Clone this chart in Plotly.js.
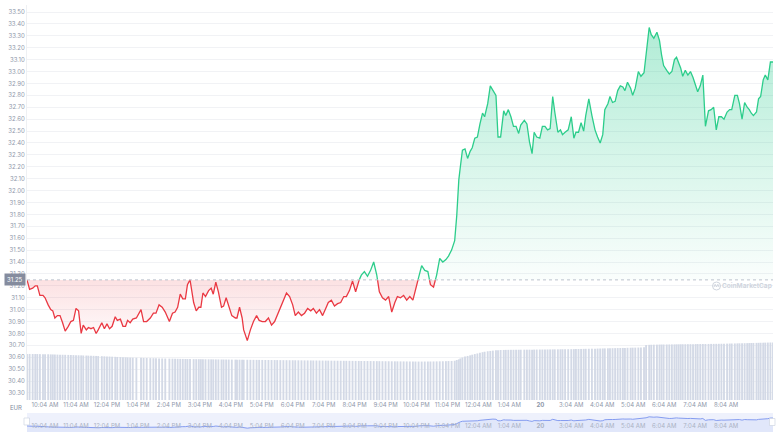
<!DOCTYPE html>
<html><head><meta charset="utf-8">
<script src="https://cdn.plot.ly/plotly-3.0.1.min.js"></script>
<style>html,body{margin:0;padding:0;background:#fff}#chart{width:780px;height:439px}</style>
</head><body><div id="chart"></div>
<script>
// ---- data ----
const startTime = Date.UTC(2024, 0, 19, 9, 29); // 9:29 AM, day 19
const minutes = [
0,5,11,16,20,25,31,35,41,46,50,54,59,64,69,74,80,85,90,95,
100,105,109,115,119,124,129,134,138,145,150,155,160,165,171,175,181,186,191,195,
200,205,212,221,226,232,239,245,250,256,262,268,276,282,287,292,297,302,307,311,
316,323,328,333,337,341,346,352,357,361,366,371,377,381,386,391,397,404,407,412,
417,420,427,433,439,445,450,456,462,468,474,480,485,491,497,503,509,515,520,526,
532,538,544,550,555,561,567,573,579,584,590,596,602,608,614,619,625,631,637,643,
648,654,660,666,672,678,683,689,695,701,707,713,718,724,730,736,742,748,753,759,
765,771,777,782,788,794,800,806,812,817,823,829,833,837,840,844,849,854,859,863,
868,873,878,883,887,893,898,903,909,913,918,924,928,933,938,943,948,953,957,964,
969,974,979,983,988,994,999,1004,1009,1014,1019,1023,1029,1034,1038,1043,1049,1055,1060,1064,
1069,1074,1079,1083,1089,1095,1101,1106,1111,1116,1120,1126,1130,1135,1140,1145,1150,1155,1159,1164,
1170,1174,1179,1185,1190,1196,1200,1206,1210,1215,1221,1226,1230,1234,1240,1245,1250,1255,1259,1263,
1267,1271,1276,1281,1286,1291,1296,1300,1305,1310,1315,1321,1326,1331,1336,1341,1346,1351,1357,1362,
1366,1372,1377,1381,1386,1391,1396,1400,1404,1408,1414,1418,1422,1427,1431,1436,1441,1446
];
const prices = [
31.25,31.17,31.18,31.20,31.20,31.12,31.12,31.10,31.04,31.00,30.99,30.93,30.95,30.95,30.89,30.82,30.86,30.90,30.91,31.01,
30.99,30.80,30.87,30.83,30.85,30.84,30.85,30.80,30.83,30.89,30.84,30.88,30.84,30.86,30.94,30.91,30.92,30.86,30.86,30.91,
30.89,30.92,30.93,31.00,30.90,30.90,30.93,30.97,30.97,31.04,31.02,30.98,30.90,30.97,30.98,31.02,31.13,31.09,31.09,31.21,
31.25,31.06,30.99,31.02,31.02,31.14,31.11,31.16,31.18,31.13,31.23,31.15,31.02,31.03,31.10,31.04,30.95,30.93,30.93,31.02,
30.93,30.83,30.74,30.83,30.90,30.95,30.91,30.90,30.90,30.93,30.87,30.90,30.95,31.01,31.08,31.14,31.11,31.04,30.95,30.98,
30.95,30.97,31.01,30.99,31.01,30.97,31.00,30.95,31.01,31.06,31.08,31.03,31.05,31.06,31.11,31.11,31.16,31.24,31.15,31.24,
31.29,31.32,31.28,31.33,31.40,31.29,31.15,31.10,31.08,31.11,30.98,31.06,31.11,31.10,31.12,31.08,31.11,31.08,31.16,31.27,
31.37,31.33,31.32,31.21,31.19,31.29,31.43,31.40,31.42,31.45,31.50,31.58,31.79,32.09,32.20,32.34,32.35,32.27,32.33,32.36,
32.44,32.45,32.56,32.65,32.62,32.73,32.88,32.84,32.80,32.45,32.45,32.67,32.63,32.68,32.62,32.54,32.54,32.48,32.55,32.59,
32.56,32.41,32.31,32.49,32.45,32.44,32.54,32.54,32.51,32.52,32.79,32.66,32.49,32.51,32.47,32.49,32.51,32.62,32.44,32.49,
32.49,32.57,32.50,32.63,32.77,32.63,32.51,32.45,32.40,32.47,32.68,32.73,32.79,32.74,32.75,32.84,32.88,32.87,32.84,32.91,
32.86,32.80,32.86,33.00,32.96,32.99,33.14,33.37,33.31,33.28,33.33,33.26,33.14,33.05,33.01,32.98,33.00,33.10,33.12,33.07,
33.03,32.96,33.01,32.97,33.00,32.95,32.89,32.83,32.88,32.97,32.54,32.67,32.68,32.70,32.51,32.62,32.62,32.60,32.66,32.68,
32.68,32.80,32.80,32.73,32.60,32.74,32.70,32.68,32.65,32.63,32.66,32.77,32.79,32.93,32.97,32.93,33.08,33.08
];
const volumes = [
1475,1474,1472,1471,1470,1468,1466,1465,1463,1460,1458,1456,1453,1450,1448,1446,1443,1440,1437,1434,
1431,1428,1425,1422,1419,1416,1413,1410,1406,1402,1398,1394,1390,1386,1382,1378,1374,1370,1366,1362,
1358,1355,1352,1349,1346,1343,1340,1337,1334,1331,1328,1326,1324,1322,1320,1318,1316,1314,1312,1310,
1309,1308,1307,1306,1305,1304,1303,1302,1301,1300,1299,1298,1297,1296,1295,1294,1293,1292,1291,1290,
1289,1288,1287,1286,1285,1284,1283,1282,1281,1280,1279,1278,1277,1276,1275,1274,1273,1272,1271,1270,
1269,1268,1267,1266,1265,1264,1263,1262,1261,1260,1259,1258,1257,1256,1255,1254,1253,1252,1251,1250,
1249,1248,1247,1246,1245,1244,1243,1242,1241,1240,1239,1238,1237,1236,1235,1234,1233,1232,1231,1230,
1230,1231,1232,1233,1234,1236,1238,1240,1243,1246,1250,1256,1280,1300,1330,1360,1390,1410,1430,1450,
1470,1490,1510,1530,1545,1560,1570,1580,1590,1595,1600,1602,1604,1605,1606,1607,1608,1608,1609,1610,
1610,1611,1612,1613,1614,1615,1616,1617,1618,1619,1620,1621,1622,1623,1624,1625,1626,1627,1628,1630,
1632,1634,1636,1638,1640,1642,1644,1646,1648,1650,1652,1654,1656,1658,1660,1662,1664,1666,1668,1670,
1672,1674,1676,1678,1680,1690,1760,1765,1768,1770,1772,1774,1775,1776,1777,1778,1779,1780,1781,1782,
1783,1784,1785,1786,1787,1788,1789,1790,1791,1792,1793,1794,1795,1796,1797,1798,1800,1802,1804,1806,
1808,1810,1812,1814,1816,1818,1820,1822,1824,1826,1828,1830,1832,1834,1836,1838,1840,1842
];
const tickLabels = ["10:04 AM","11:04 AM","12:04 PM","1:04 PM","2:04 PM","3:04 PM","4:04 PM","5:04 PM",
  "6:04 PM","7:04 PM","8:04 PM","9:04 PM","10:04 PM","11:04 PM","12:04 AM","1:04 AM","<b>20</b>",
  "3:04 AM","4:04 AM","5:04 AM","6:04 AM","7:04 AM","8:04 AM"];
const firstTickMinute = 35;
const baseline = 31.25;
const baselineLabel = "31.25";

// ---- build ----
const n = Math.min(minutes.length, prices.length);
const t = minutes.slice(0, n).map(m => startTime + m * 60000);
const t0 = t[0], tEnd = t[n - 1];
const X = [], Y = [];
for (let i = 0; i < n; i++) {
  X.push(t[i]); Y.push(prices[i]);
  if (i < n - 1) {
    const a = prices[i] - baseline, b = prices[i + 1] - baseline;
    if (a * b < 0) { const f = a / (a - b); X.push(t[i] + f * (t[i + 1] - t[i])); Y.push(baseline); }
  }
}
const baseY = X.map(() => baseline);
const upFill = Y.map(v => Math.max(v, baseline));
const dnFill = Y.map(v => Math.min(v, baseline));
const upLine = Y.map(v => v >= baseline ? v : null);
const dnLine = Y.map(v => v <= baseline ? v : null);
const tickvals = tickLabels.map((_, k) => startTime + (firstTickMinute + 60 * k) * 60000);
const nv = Math.min(n, volumes.length);

const GREEN = '#2ccd8b', RED = '#ea3943';
const traces = [
  {type: 'bar', x: t.slice(0, nv), y: volumes.slice(0, nv), yaxis: 'y2', xaxis: 'x',
   width: 216000, marker: {color: '#d3d9e6', line: {width: 0}}, hoverinfo: 'skip'},
  {type: 'scatter', mode: 'lines', x: X, y: baseY, line: {width: 0}, hoverinfo: 'skip'},
  {type: 'scatter', mode: 'lines', x: X, y: upFill, line: {width: 0}, fill: 'tonexty',
   fillcolor: 'rgba(22,199,132,0.18)',
   fillgradient: {type: 'vertical', start: baseline, stop: 33.4,
     colorscale: [[0, 'rgba(22,199,132,0.02)'], [1, 'rgba(22,199,132,0.34)']]}, hoverinfo: 'skip'},
  {type: 'scatter', mode: 'lines', x: X, y: baseY, line: {width: 0}, hoverinfo: 'skip'},
  {type: 'scatter', mode: 'lines', x: X, y: dnFill, line: {width: 0}, fill: 'tonexty',
   fillcolor: 'rgba(234,57,67,0.08)',
   fillgradient: {type: 'vertical', start: 30.74, stop: baseline,
     colorscale: [[0, 'rgba(234,57,67,0.02)'], [1, 'rgba(234,57,67,0.15)']]}, hoverinfo: 'skip'},
  {type: 'scatter', mode: 'lines', x: X, y: upLine, line: {color: GREEN, width: 1.3}, connectgaps: false},
  {type: 'scatter', mode: 'lines', x: X, y: dnLine, line: {color: RED, width: 1.3}, connectgaps: false},
  {type: 'scatter', mode: 'lines', x: t, y: prices.slice(0, n), xaxis: 'x2', yaxis: 'y3',
   line: {color: 'rgba(122,148,238,0.9)', width: 1}, fill: 'tozeroy', fillcolor: 'rgba(122,148,238,0.10)', hoverinfo: 'skip'}
];

const W = 746, H = 428; // plot area px (l=27, t=5)
const px = x => (x - 27) / W, py = y => (433 - y) / H;
const axisFont = {family: 'Inter, "Open Sans", sans-serif', size: 6, color: '#8f98aa'};
const layout = {
  width: 780, height: 439,
  margin: {l: 27, r: 7, t: 5, b: 6},
  paper_bgcolor: '#ffffff', plot_bgcolor: 'rgba(0,0,0,0)',
  showlegend: false,
  font: axisFont,
  xaxis: {type: 'date', range: [t0, tEnd], anchor: 'y', tickmode: 'array', tickvals: tickvals, ticktext: tickLabels,
    tickfont: axisFont, showgrid: false, zeroline: false, showline: false, ticks: '', fixedrange: true},
  yaxis: {domain: [py(400), 1], range: [30.2411, 33.5588], tick0: 30.3, dtick: 0.1, tickformat: '.2f',
    gridcolor: '#f1f2f5', gridwidth: 1, showline: true, linecolor: '#eef0f3', linewidth: 1, ticks: '',
    zeroline: false, tickfont: axisFont, fixedrange: true},
  yaxis2: {overlaying: 'y', range: [0, 12640], visible: false, fixedrange: true},
  xaxis2: {type: 'date', anchor: 'y3', range: [t0, tEnd], tickmode: 'array', tickvals: tickvals, ticktext: tickLabels,
    ticklabelposition: 'inside', ticks: '', showgrid: false, zeroline: false, showline: false,
    tickfont: {family: 'Inter, "Open Sans", sans-serif', size: 6, color: '#aab2c4'}, fixedrange: true},
  yaxis3: {domain: [py(432), py(413)], range: [29.85, 34.25], visible: false, fixedrange: true},
  shapes: [
    {type: 'rect', xref: 'x2 domain', yref: 'y3 domain', x0: 0, x1: 1, y0: 0, y1: 1,
     fillcolor: '#eef1fc', line: {width: 0}, layer: 'below'},
    {type: 'line', xref: 'x', yref: 'y', x0: t0, x1: tEnd, y0: baseline, y1: baseline,
     line: {color: '#bcc2cd', width: 1, dash: 'dot'}, layer: 'above'},
    {type: 'rect', xref: 'paper', yref: 'paper', x0: px(24), x1: px(29.5), y0: py(425), y1: py(418),
     fillcolor: '#ffffff', line: {color: '#cfd5e2', width: 0.7}},
    {type: 'rect', xref: 'paper', yref: 'paper', x0: px(769.5), x1: px(775), y0: py(425.5), y1: py(418.5),
     fillcolor: '#ffffff', line: {color: '#cfd5e2', width: 0.7}},
    {type: 'circle', xref: 'paper', yref: 'paper', x0: px(712.5), x1: px(720.5), y0: py(290), y1: py(282),
     line: {color: '#d0d5de', width: 1}},
    {type: 'path', xref: 'paper', yref: 'paper',
     path: `M ${px(714)} ${py(287)} L ${px(715.2)} ${py(284.3)} L ${px(716.5)} ${py(287)} L ${px(717.8)} ${py(284.3)} L ${px(719)} ${py(287)}`,
     line: {color: '#d0d5de', width: 1}}
  ],
  annotations: [
    {xref: 'paper', yref: 'y', x: 0, y: baseline, xanchor: 'right', yanchor: 'middle', xshift: -1,
     text: baselineLabel, showarrow: false, bgcolor: '#858c9e', borderpad: 2,
     font: {family: 'Inter, "Open Sans", sans-serif', size: 6, color: '#ffffff'}},
    {xref: 'paper', yref: 'paper', x: px(15.5), y: py(407), xanchor: 'center', yanchor: 'middle',
     text: 'EUR', showarrow: false, font: {family: 'Inter, "Open Sans", sans-serif', size: 6, color: '#808a9d'}},
    {xref: 'paper', yref: 'paper', x: px(746.5), y: py(286), xanchor: 'center', yanchor: 'middle',
     text: '<b>CoinMarketCap</b>', showarrow: false, font: {family: 'Inter, "Open Sans", sans-serif', size: 6.5, color: '#d0d5de'}}
  ]
};
Plotly.newPlot('chart', traces, layout, {displayModeBar: false, staticPlot: true});
</script>
</body></html>
